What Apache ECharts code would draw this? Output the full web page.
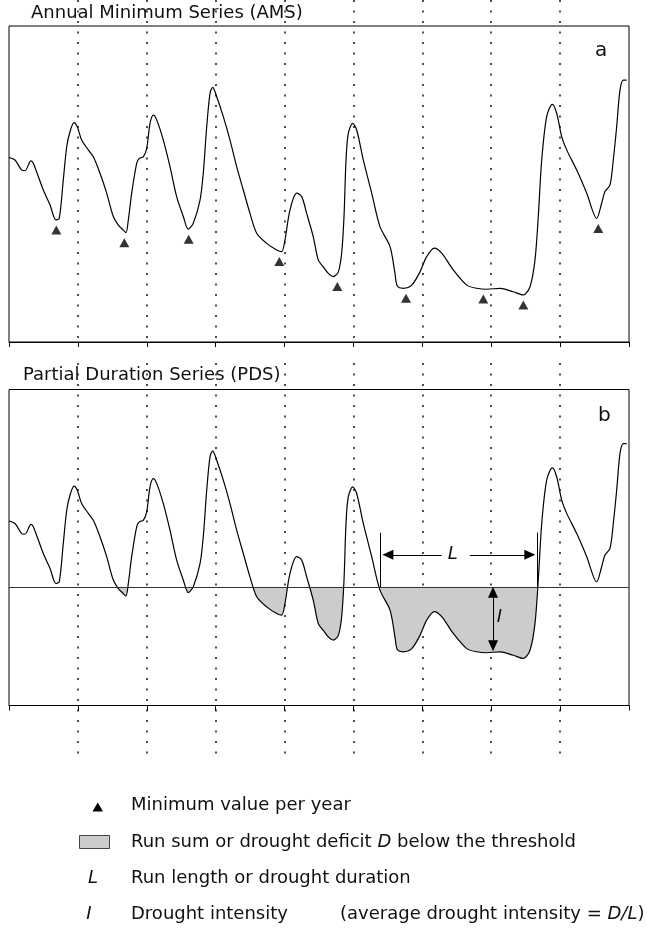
<!DOCTYPE html>
<html><head><meta charset="utf-8">
<script src="https://cdn.jsdelivr.net/npm/echarts@6/dist/echarts.min.js"></script>
<style>html,body{margin:0;padding:0;background:#fff}#c{width:647px;height:930px}</style>
</head><body><div id="c"></div>
<script>
// ---- data (time in years, flow in arbitrary units) ----
const time = [0, 0.087, 0.184, 0.232, 0.319, 0.353, 0.498, 0.595, 0.682, 0.730,
  0.788, 0.838, 0.886, 0.944, 0.991, 1.055, 1.151, 1.224, 1.321, 1.418,
  1.514, 1.587, 1.659, 1.698, 1.732, 1.781, 1.854, 1.891, 1.949, 1.999,
  2.047, 2.095, 2.144, 2.240, 2.337, 2.434, 2.530, 2.603, 2.675, 2.773,
  2.820, 2.870, 2.918, 2.957, 3.015, 3.111, 3.208, 3.305, 3.401, 3.498,
  3.596, 3.741, 3.886, 3.958, 4.006, 4.079, 4.176, 4.249, 4.321, 4.417,
  4.490, 4.562, 4.635, 4.707, 4.780, 4.829, 4.863, 4.892, 4.925, 4.989,
  5.047, 5.143, 5.265, 5.385, 5.531, 5.603, 5.637, 5.723, 5.846, 5.966,
  6.063, 6.174, 6.281, 6.449, 6.644, 6.789, 6.934, 7.128, 7.320, 7.466,
  7.563, 7.635, 7.683, 7.733, 7.805, 7.886, 7.950, 8.023, 8.096, 8.241,
  8.386, 8.531, 8.603, 8.651, 8.724, 8.772, 8.821, 8.869, 8.917, 8.966];
const flow = [58.4, 57.6, 54.4, 54.2, 57.3, 56.6, 48.1, 43.4, 38.6, 39.2,
  51.3, 61.8, 66.6, 69.4, 68.1, 63.9, 60.8, 58.6, 53.4, 47.1,
  39.7, 37.0, 35.4, 34.6, 38.6, 47.1, 56.6, 58.1, 58.6, 61.3,
  69.2, 71.8, 70.3, 63.9, 55.5, 46.0, 39.7, 35.7, 37.6, 44.9,
  53.4, 68.1, 78.7, 80.6, 77.6, 71.3, 63.9, 55.5, 48.1, 40.7,
  34.4, 31.2, 29.1, 28.6, 32.3, 41.8, 47.1, 46.0, 40.7, 33.3,
  25.9, 23.8, 21.7, 20.7, 22.2, 28.1, 39.7, 57.6, 66.0, 69.2,
  67.1, 57.6, 47.1, 36.5, 30.2, 21.7, 17.7, 17.0, 18.0, 22.2,
  27.0, 29.7, 28.1, 22.8, 18.0, 17.0, 16.7, 17.0, 15.9, 14.9,
  17.5, 25.9, 39.7, 57.6, 71.3, 75.2, 72.4, 65.0, 60.8, 54.4,
  47.1, 39.1, 43.9, 47.6, 49.7, 57.6, 68.1, 79.7, 82.9, 82.9];
const minTime = [0.687, 1.674, 2.608, 3.924, 4.766, 5.763, 6.885, 7.466, 8.554];
const minFlow = [38.6, 34.6, 35.7, 28.6, 20.7, 17.0, 16.8, 14.9, 39.1];
const yearRange = [0, 9];
const flowRange = [0, 100];
const threshold = 37.5;
// run annotation (L) and intensity annotation (I)
const runBars = [5.39, 7.67];
const runBarTop = 54.7;
const runArrowLevel = 47.7;
const runArrowFrom = [6.28, 6.69];
const runArrowTo = [5.50, 7.56];
const labelL = [6.44, 47.7];
const intensityTime = 7.026;
const intensityEnds = [35.8, 18.9];
const labelI = [7.12, 27.8];
const panelTitles = ['Annual Minimum Series (AMS)', 'Partial Duration Series (PDS)'];
const panelLetters = ['a', 'b'];

const FONT = 'DejaVu Sans';
const INK = '#111';
const SMOOTH = 0.3;
const pairs = time.map((t, i) => [t, flow[i]]);
const minPairs = minTime.map((t, i) => [t, minFlow[i]]);

const chart = echarts.init(document.getElementById('c'), null, {renderer: 'canvas'});

function dataAxis(gi) {
  return {type: 'value', gridIndex: gi, min: yearRange[0], max: yearRange[1], interval: 1,
    axisLine: {show: true, lineStyle: {color: '#000', width: 1}},
    axisTick: {show: true, inside: false, length: 5, lineStyle: {color: '#000', width: 1}},
    axisLabel: {show: false}, splitLine: {show: false}};
}
function dotAxis(gi) {
  return {type: 'value', gridIndex: gi, min: yearRange[0], max: yearRange[1], interval: 1,
    axisLine: {show: false}, axisTick: {show: false}, axisLabel: {show: false},
    splitLine: {show: true, showMinLine: false, showMaxLine: false,
      lineStyle: {color: '#222', width: 1.6, type: [2, 8.5]}}};
}
function hiddenY(gi) {
  return {type: 'value', gridIndex: gi, min: flowRange[0], max: flowRange[1],
    axisLine: {show: false}, axisTick: {show: false}, axisLabel: {show: false}, splitLine: {show: false}};
}
const txt = (text, x, y, extra) => ({type: 'text', x: x, y: y, silent: true,
  style: Object.assign({text: text, fontSize: 18, fontFamily: FONT, fill: INK, verticalAlign: 'middle'}, extra || {})});
const italic = {fontSize: 18, fontFamily: FONT, fontStyle: 'italic', fill: INK};
const normal = {fontSize: 18, fontFamily: FONT, fill: INK};

const option = {
  animation: false,
  backgroundColor: '#fff',
  title: [
    {text: panelTitles[0], left: 31, top: 4, padding: 0, textStyle: {fontSize: 18, fontWeight: 'normal', fontFamily: FONT, color: INK, lineHeight: 18}},
    {text: panelTitles[1], left: 23, top: 366, padding: 0, textStyle: {fontSize: 18, fontWeight: 'normal', fontFamily: FONT, color: INK, lineHeight: 18}},
    {text: panelLetters[0], left: 595, top: 41, padding: 0, textStyle: {fontSize: 20, fontWeight: 'normal', fontFamily: FONT, color: INK, lineHeight: 20}},
    {text: panelLetters[1], left: 598, top: 406, padding: 0, textStyle: {fontSize: 20, fontWeight: 'normal', fontFamily: FONT, color: INK, lineHeight: 20}}
  ],
  grid: [
    {left: 9, top: 26, width: 620, height: 316, show: true, borderColor: '#000', borderWidth: 1, outerBoundsMode: 'none'},
    {left: 9, top: 389.5, width: 620, height: 316, show: true, borderColor: '#000', borderWidth: 1, outerBoundsMode: 'none'},
    {left: 9, top: 0, width: 620, height: 342, outerBoundsMode: 'none'},
    {left: 9, top: 363, width: 620, height: 395, outerBoundsMode: 'none'}
  ],
  xAxis: [dataAxis(0), dataAxis(1), dotAxis(2), dotAxis(3)],
  yAxis: [hiddenY(0), hiddenY(1), hiddenY(2), hiddenY(3)],
  visualMap: {type: 'piecewise', show: false, seriesIndex: 2, dimension: 1,
    pieces: [{gte: -1000, lt: threshold, color: '#cccccc'}, {gte: threshold, lte: 1000, color: 'rgba(255,255,255,0)'}]},
  series: [
    {type: 'line', xAxisIndex: 0, yAxisIndex: 0, data: pairs, symbol: 'none', z: 3, smooth: SMOOTH,
      lineStyle: {color: '#000', width: 1.2}},
    {type: 'scatter', xAxisIndex: 0, yAxisIndex: 0, data: minPairs, symbol: 'triangle',
      symbolSize: [10, 9], symbolOffset: [0, 10], itemStyle: {color: '#000'}, z: 4},
    {type: 'line', xAxisIndex: 1, yAxisIndex: 1, data: pairs, symbol: 'none', z: 1, smooth: SMOOTH,
      lineStyle: {width: 0, opacity: 0}, areaStyle: {origin: threshold, opacity: 1}},
    {type: 'line', xAxisIndex: 1, yAxisIndex: 1, data: pairs, symbol: 'none', z: 3, smooth: SMOOTH,
      lineStyle: {color: '#000', width: 1.2},
      markLine: {silent: true, symbol: 'none', label: {show: false},
        lineStyle: {color: '#000', width: 1, type: 'solid'},
        data: [
          {yAxis: threshold, lineStyle: {color: '#333', width: 1}},
          [{coord: [runBars[0], threshold], symbol: 'none'}, {coord: [runBars[0], runBarTop], symbol: 'none'}],
          [{coord: [runBars[1], threshold], symbol: 'none'}, {coord: [runBars[1], runBarTop], symbol: 'none'}],
          [{coord: [runArrowFrom[0], runArrowLevel], symbol: 'none'}, {coord: [runArrowTo[0], runArrowLevel], symbol: 'triangle', symbolSize: [10, 11]}],
          [{coord: [runArrowFrom[1], runArrowLevel], symbol: 'none'}, {coord: [runArrowTo[1], runArrowLevel], symbol: 'triangle', symbolSize: [10, 11]}],
          [{coord: [intensityTime, intensityEnds[0]], symbol: 'triangle', symbolSize: [10, 11]}, {coord: [intensityTime, intensityEnds[1]], symbol: 'triangle', symbolSize: [10, 11]}]
        ]},
      markPoint: {silent: true, symbol: 'circle', symbolSize: 1, itemStyle: {color: 'rgba(0,0,0,0)'},
        label: {show: true, position: 'inside', fontSize: 18, fontFamily: FONT, fontStyle: 'italic', color: INK},
        data: [
          {coord: labelL, label: {formatter: 'L'}},
          {coord: labelI, label: {formatter: 'I'}}
        ]}
    }
  ],
  graphic: [
    {type: 'polygon', silent: true, shape: {points: [[92.5, 811.5], [103, 811.5], [97.75, 802.5]]}, style: {fill: '#000'}},
    txt('Minimum value per year', 131, 805),
    {type: 'rect', silent: true, shape: {x: 79.5, y: 835.5, width: 30, height: 13}, style: {fill: '#cccccc', stroke: '#444', lineWidth: 1}},
    txt('Run sum or drought deficit {i|D} below the threshold', 131, 842, {rich: {i: italic, n: normal}}),
    txt('L', 93, 878, {fontStyle: 'italic', align: 'center'}),
    txt('Run length or drought duration', 131, 878),
    txt('I', 89, 914, {fontStyle: 'italic', align: 'center'}),
    txt('Drought intensity', 131, 914),
    txt('(average drought intensity = {i|D/L})', 340, 914, {rich: {i: italic, n: normal}})
  ]
};
chart.setOption(option);
</script>
</body></html>
